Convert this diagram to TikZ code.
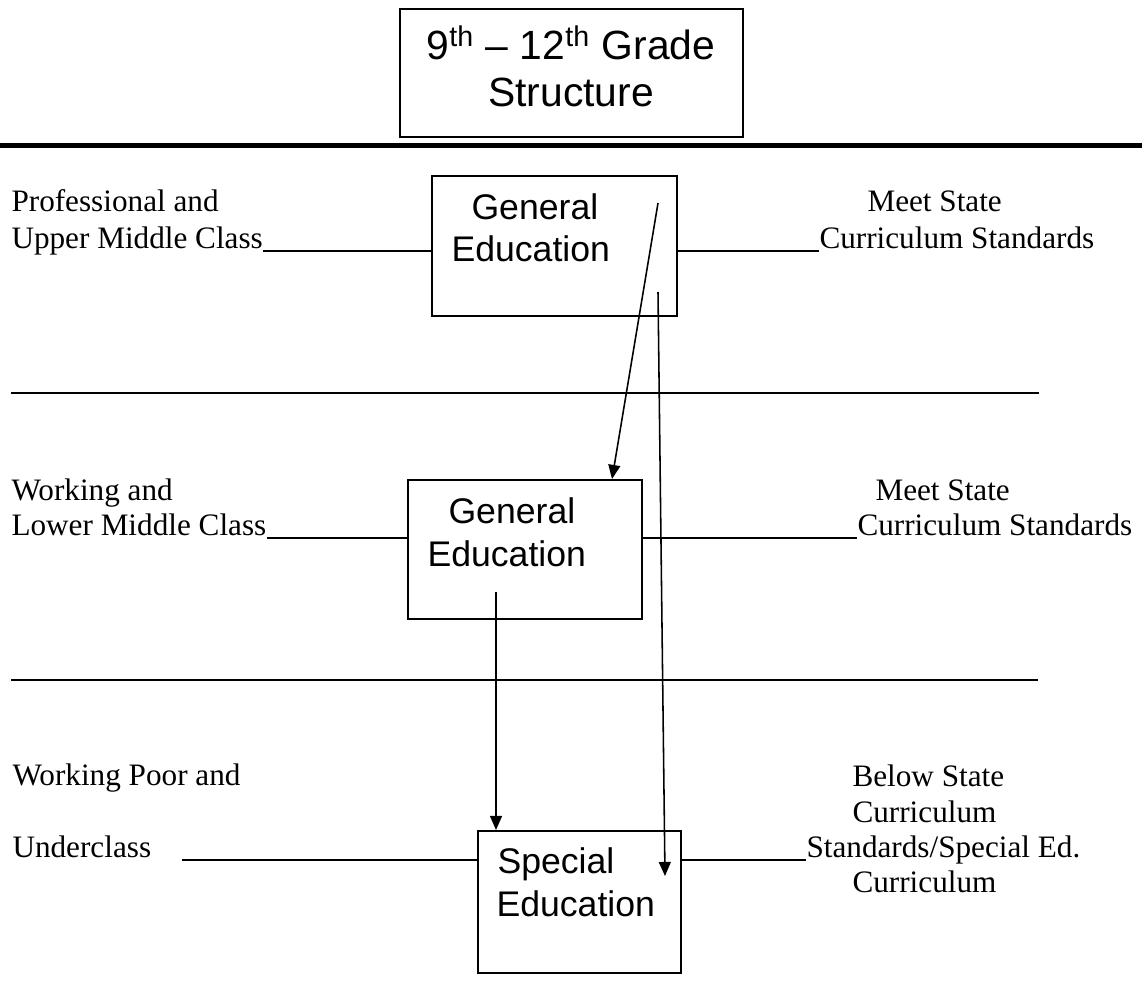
\documentclass[tikz,border=0pt]{standalone}
\usepackage{fontspec}
\setmainfont{Liberation Serif}
\newfontfamily\arialfont{Liberation Sans}
\usetikzlibrary{arrows.meta,fit}

\tikzset{
	box/.style={draw, line width=0.8pt, inner sep=0pt},
	lbl/.style={inner sep=0pt, anchor=base west, font=\fontsize{12}{14}\selectfont},
	boxtxt/.style={inner sep=0pt, anchor=base west, font=\arialfont\fontsize{13.7}{16}\selectfont},
	ttl/.style={inner sep=0pt, anchor=base, font=\arialfont\fontsize{15.7}{18}\selectfont},
	rule/.style={line width=0.75pt},
	link/.style={line width=0.6pt},
}

\begin{document}
\begin{tikzpicture}[x=0.3846pt, y=-0.3846pt, >={Triangle[length=5.4pt,width=4.6pt]}]
	\useasboundingbox (0,0) rectangle (1142,1000);

	% title
	\node[box, fit={(400,9) (743,137)}] (titlebox) {};
	\node[ttl] (title1) at (571,60) {9\textsuperscript{th} \textendash{} 12\textsuperscript{th} Grade};
	\node[ttl] (title2) at (571,107) {Structure};
	\draw[line width=1.9pt] (0,145.5) -- (1142,145.5);

	% the three tracks
	\node[box, fit={(432,176) (677,316)}] (ge1) {};
	\node[boxtxt] (ge1a) at (471,220) {General};
	\node[boxtxt] (ge1b) at (451,262) {Education};

	\node[box, fit={(408,480) (642,619)}] (ge2) {};
	\node[boxtxt] (ge2a) at (448,523) {General};
	\node[boxtxt] (ge2b) at (427,566) {Education};

	\node[box, fit={(478,831) (681,973)}] (se) {};
	\node[boxtxt] (sea) at (497,873) {Special};
	\node[boxtxt] (seb) at (496,916) {Education};

	% classes
	\node[lbl] (prof) at (11,212) {Professional and};
	\node[lbl] (upper) at (11,248) {Upper Middle Class};
	\node[lbl] (work) at (11,500) {Working and};
	\node[lbl] (lower) at (11,535) {Lower Middle Class};
	\node[lbl] (poor) at (12,785) {Working Poor and};
	\node[lbl] (under) at (12,857) {Underclass};

	% outcomes
	\node[lbl] (meet1) at (867,212) {Meet State};
	\node[lbl] (curr1) at (819,248) {Curriculum Standards};
	\node[lbl] (meet2) at (875,500) {Meet State};
	\node[lbl] (curr2) at (857,535) {Curriculum Standards};
	\node[lbl] (below) at (852,786) {Below State};
	\node[lbl] (curr3) at (852,822) {Curriculum};
	\node[lbl] (stand) at (806,857) {Standards/Special Ed.};
	\node[lbl] (curr4) at (852,892) {Curriculum};

	% lines to the boxes
	\draw[rule] (upper.base east) ++(0,3) coordinate (u1) -- (u1 -| ge1.west);
	\draw[rule] (curr1.base west) ++(0,3) coordinate (v1) -- (v1 -| ge1.east);
	\draw[rule] (lower.base east) ++(0,3) coordinate (u2) -- (u2 -| ge2.west);
	\draw[rule] (curr2.base west) ++(0,3) coordinate (v2) -- (v2 -| ge2.east);
	\draw[rule] (under.base east) ++(30,3) coordinate (u3) -- (u3 -| se.west);
	\draw[rule] (stand.base west) ++(0,3) coordinate (v3) -- (v3 -| se.east);

	\draw[rule] (11,393) -- (1039,393);
	\draw[rule] (11,680) -- (1038,680);

	% moves between tracks
	\coordinate (a1) at (658,203);
	\coordinate (a1e) at (612,0 |- ge2.north);
	\coordinate (a2) at (658,292);
	\coordinate (a2e) at (665,876);
	\coordinate (a3) at (496,592);
	\draw[link,->] (a1) -- (a1e);
	\draw[link,->] (a2) -- (a2e);
	\draw[link,->] (a3) -- (a3 |- se.north);
\end{tikzpicture}
\end{document}
